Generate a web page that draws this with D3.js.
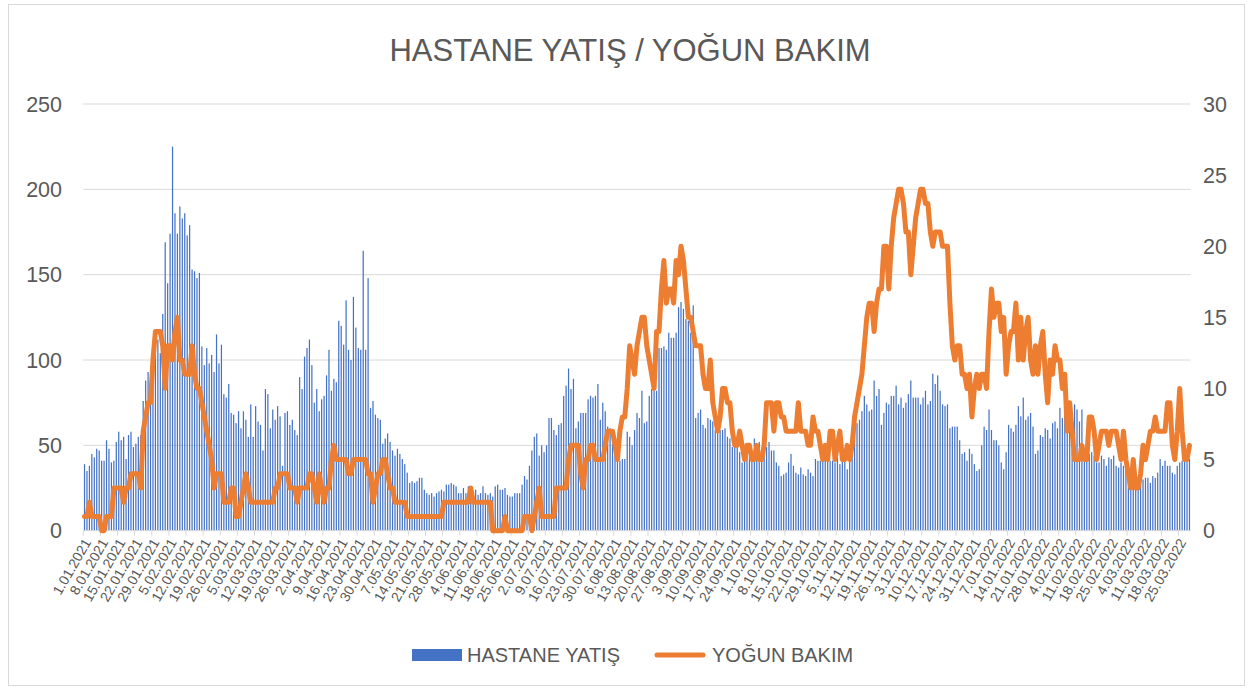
<!DOCTYPE html>
<html lang="tr">
<head>
<meta charset="utf-8">
<title>HASTANE YATIŞ / YOĞUN BAKIM</title>
<script src="https://cdn.jsdelivr.net/npm/d3@7"></script>
<style>
body { margin: 0; background: #fff; }
text { font-family: "Liberation Sans", Arial, sans-serif; fill: #595959; }
</style>
</head>
<body>
<script>

// DATA - daily values from 1.01.2021
var startDate = new Date(2021, 0, 1);

// hospital admissions (left axis)
var hastane = [
39,35,38,45,43,48,47,41,41,53,48,40,41,52,58,53,55,42,56,58,49,51,55,56,76,88,93,88,104,106,112,104,127,169,145,174,225,
186,174,190,183,186,173,179,153,152,148,151,108,97,107,98,103,93,115,98,109,80,78,86,69,68,63,70,60,70,65,55,74,55,73,64,62,47,83,80,
60,71,65,73,67,38,69,70,62,65,59,56,90,83,102,107,112,97,75,83,70,77,79,91,106,82,89,87,123,120,109,135,106,100,137,119,107,106,
164,106,148,72,76,68,66,65,51,54,57,52,47,44,48,45,42,39,34,28,29,28,29,31,31,24,22,21,22,20,22,23,24,23,27,27,28,27,26,
22,22,25,22,26,24,22,24,21,22,26,22,21,22,20,26,27,24,24,25,21,20,20,22,22,22,27,32,30,38,47,55,57,44,50,46,50,66,
66,59,56,62,63,79,85,95,83,89,60,64,69,69,69,77,79,78,79,86,65,75,70,61,60,57,55,47,41,42,42,58,55,50,59,69,66,82,
63,64,79,83,82,82,107,107,108,106,116,113,113,116,131,134,130,124,123,116,132,66,69,71,62,60,66,65,64,59,63,59,59,60,55,54,49,51,51,
46,40,41,45,43,45,54,47,52,48,50,49,52,47,47,40,38,32,33,34,40,45,38,34,33,37,33,32,36,34,32,42,41,41,43,42,42,41,
41,40,45,39,43,42,36,45,49,60,63,65,70,79,74,70,71,88,79,83,62,69,75,74,79,79,85,74,78,72,75,80,88,78,78,78,74,78,82,
74,76,92,86,91,82,74,73,74,60,61,61,61,53,45,46,41,48,45,39,35,36,50,61,59,71,59,53,53,50,40,36,46,62,60,58,62,73,
67,78,65,67,69,61,45,47,56,55,60,59,54,63,64,60,72,66,71,71,65,47,74,71,64,71,48,44,45,46,44,40,40,44,42,38,43,42,44,
38,37,40,38,36,30,30,29,30,30,33,30,31,31,28,32,31,34,42,38,41,38,38,34,33,38,40,41,41,41,42
];

// intensive care (right axis)
var yogunBakim = [
1,1,2,1,1,1,1,0,0,1,1,1,3,3,3,3,2,3,3,4,4,4,4,3,7,8,9,9,12,14,14,14,13,10,13,13,12,
14,15,12,12,11,11,11,13,11,10,10,9,8,7,6,5,3,4,4,4,2,2,2,3,3,1,1,2,3,4,3,2,2,2,2,2,2,2,2,
2,2,3,3,4,4,4,4,3,3,3,2,3,3,3,3,4,4,3,2,4,3,2,3,3,5,6,5,5,5,5,5,4,4,5,5,5,5,
5,5,4,4,2,3,4,4,5,5,4,3,3,2,2,2,2,2,1,1,1,1,1,1,1,1,1,1,1,1,1,1,1,2,2,2,2,2,2,
2,2,2,2,2,3,2,2,2,2,2,2,2,2,0,0,0,0,0,1,0,0,0,0,0,0,0,1,1,1,0,1,2,3,1,1,1,1,
1,1,3,3,3,3,3,5,6,6,6,6,4,3,5,5,6,6,5,5,5,5,6,7,7,7,6,5,7,8,8,10,13,12,11,13,14,15,
15,13,12,11,10,14,14,17,19,16,17,17,16,19,18,20,19,17,15,15,14,13,13,13,11,10,10,12,9,8,7,8,10,10,9,9,7,6,6,
7,6,5,6,6,5,5,6,5,5,6,9,9,9,7,9,9,8,8,7,7,7,7,7,9,7,7,7,6,6,8,7,7,6,5,6,5,7,
7,5,6,7,5,5,6,5,6,8,9,10,11,13,15,16,16,14,16,17,17,20,20,17,20,22,23,24,24,23,21,21,18,20,22,23,24,24,23,
23,21,20,21,21,21,20,20,20,16,13,12,13,13,11,11,10,11,8,10,11,10,11,11,10,14,17,15,16,16,14,15,11,13,14,14,16,12,
15,12,14,15,12,11,13,11,13,14,11,9,12,11,13,12,12,10,11,7,9,7,5,5,5,6,5,5,8,8,7,5,6,7,7,7,6,7,7,
7,6,5,7,5,4,3,5,3,3,4,6,5,6,7,7,8,7,7,7,7,9,9,6,5,7,10,7,5,5,6
];

var leftTicks = [0, 50, 100, 150, 200, 250];
var rightTicks = [0, 5, 10, 15, 20, 25, 30];
var tickStep = 7; // a date label every 7 days

var days = hastane.map(function(d, i) { return d3.timeDay.offset(startDate, i); });
var fmt = d3.timeFormat("%-d.%m.%Y");

// SIZES
var w = 1253, h = 690;
var plotL = 83.3, plotR = 1190.7, plotT = 104, plotB = 530.7;

var svg = d3.select("body").append("svg")
  .attr("width", w)
  .attr("height", h);

// chart frame
svg.append("rect")
  .attr("x", 8.5).attr("y", 4.5)
  .attr("width", 1236).attr("height", 681)
  .attr("fill", "none")
  .attr("stroke", "#d9d9d9");

var step = (plotR - plotL) / days.length;
function xStart(i) { return plotL + i * step; }
function xMid(i) { return plotL + (i + 0.5) * step; }

var yL = d3.scaleLinear().domain([0, 250]).range([plotB, plotT]);
var yR = d3.scaleLinear().domain([0, 30]).range([plotB, plotT]);

// gridlines
svg.append("g")
  .selectAll("line")
  .data(leftTicks.slice(1))
  .enter()
  .append("line")
  .attr("x1", plotL).attr("x2", plotR)
  .attr("y1", function(d) { return yL(d); })
  .attr("y2", function(d) { return yL(d); })
  .attr("stroke", "#d9d9d9")
  .attr("stroke-width", 1);

// left axis labels
svg.append("g")
  .selectAll("text")
  .data(leftTicks)
  .enter()
  .append("text")
  .attr("x", 62)
  .attr("y", function(d) { return yL(d); })
  .attr("dy", "0.35em")
  .attr("text-anchor", "end")
  .attr("font-size", "21.5px")
  .text(function(d) { return d; });

// right axis labels
svg.append("g")
  .selectAll("text")
  .data(rightTicks)
  .enter()
  .append("text")
  .attr("x", 1203)
  .attr("y", function(d) { return yR(d); })
  .attr("dy", "0.35em")
  .attr("text-anchor", "start")
  .attr("font-size", "21.5px")
  .text(function(d) { return d; });

// bars
svg.append("g")
  .selectAll("rect")
  .data(hastane)
  .enter()
  .append("rect")
  .attr("x", function(d, i) { return xMid(i) - step * 0.25; })
  .attr("y", function(d) { return yL(d); })
  .attr("width", step * 0.5)
  .attr("height", function(d) { return plotB - yL(d); })
  .attr("fill", "#4472C4");

// x axis line + ticks
svg.append("line")
  .attr("x1", plotL).attr("x2", plotR)
  .attr("y1", plotB).attr("y2", plotB)
  .attr("stroke", "#d9d9d9");

var tickIdx = d3.range(0, days.length, tickStep);

svg.append("g")
  .selectAll("line")
  .data(tickIdx)
  .enter()
  .append("line")
  .attr("x1", function(i) { return xStart(i); })
  .attr("x2", function(i) { return xStart(i); })
  .attr("y1", plotB).attr("y2", plotB + 5)
  .attr("stroke", "#d9d9d9");

svg.append("g")
  .selectAll("text")
  .data(tickIdx)
  .enter()
  .append("text")
  .attr("transform", function(i) {
    return "translate(" + (xStart(i) + 4) + "," + (plotB + 9) + ") rotate(-60)";
  })
  .attr("text-anchor", "end")
  .attr("dy", "0.35em")
  .attr("font-size", "14px")
  .text(function(i) { return fmt(days[i]); });

// ICU line
var line = d3.line()
  .x(function(d, i) { return xMid(i); })
  .y(function(d) { return yR(d); });

svg.append("path")
  .datum(yogunBakim)
  .attr("d", line)
  .attr("fill", "none")
  .attr("stroke", "#ED7D31")
  .attr("stroke-width", 5)
  .attr("stroke-linejoin", "round")
  .attr("stroke-linecap", "round");

// title
svg.append("text")
  .attr("x", 630)
  .attr("y", 61)
  .attr("text-anchor", "middle")
  .attr("font-size", "31px")
  .text("HASTANE YATIŞ / YOĞUN BAKIM");

// legend
svg.append("rect")
  .attr("x", 412).attr("y", 649)
  .attr("width", 50).attr("height", 12)
  .attr("fill", "#4472C4");
svg.append("text")
  .attr("x", 467).attr("y", 655)
  .attr("dy", "0.35em")
  .attr("font-size", "20px")
  .text("HASTANE YATIŞ");

svg.append("line")
  .attr("x1", 657).attr("x2", 703)
  .attr("y1", 655).attr("y2", 655)
  .attr("stroke", "#ED7D31")
  .attr("stroke-width", 5)
  .attr("stroke-linecap", "round");
svg.append("text")
  .attr("x", 712).attr("y", 655)
  .attr("dy", "0.35em")
  .attr("font-size", "20px")
  .text("YOĞUN BAKIM");

</script>
</body>
</html>
